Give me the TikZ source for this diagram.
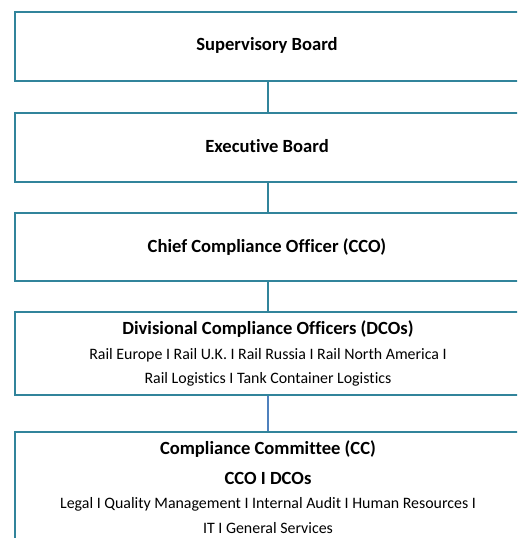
\documentclass[tikz,border=0pt]{standalone}
\usepackage{fontspec}
\setmainfont{Carlito}[Ligatures=NoCommon]
\definecolor{boxteal}{RGB}{49,132,155}
\definecolor{linkblue}{RGB}{79,129,189}
\tikzset{
  orgbox/.style={draw=boxteal, line width=2pt, rectangle, minimum width=506pt, inner sep=0pt},
  titletext/.style={font=\fontsize{18.6}{22}\selectfont\bfseries, text=black, inner sep=0pt},
  listtext/.style={font=\fontsize{15.9}{19}\selectfont, text=black, inner sep=0pt},
  link/.style={draw=boxteal, line width=2pt},
  link2/.style={draw=linkblue, line width=2pt}
}
\begin{document}
\begin{tikzpicture}[x=1pt,y=-1pt]
\useasboundingbox (0,0) rectangle (517,538);
\clip (0,0) rectangle (517,538);
\node[orgbox, minimum height=68.5pt] (b1) at (268,46.25) {};
\node[orgbox, minimum height=68.5pt] (b2) at (268,147.25) {};
\node[orgbox, minimum height=68pt] (b3) at (268,247) {};
\node[orgbox, minimum height=83pt] (b4) at (268,353.5) {};
\node[orgbox, minimum height=130pt] (b5) at (268,497) {};
\node[titletext] (t1) at (267,45) {Supervisory Board};
\node[titletext] (t2) at (267,146) {Executive Board};
\node[titletext] (t3) at (267,247) {Chief Compliance Officer (CCO)};
\node[titletext] (t4) at (268,329) {Divisional Compliance Officers (DCOs)};
\node[listtext] (t4a) at (268,355) {Rail Europe I Rail U.K. I Rail Russia I Rail North America I};
\node[listtext] (t4b) at (268,379) {Rail Logistics I Tank Container Logistics};
\node[titletext] (t5) at (268,449) {Compliance Committee (CC)};
\node[titletext] (t5a) at (268,478) {CCO I DCOs};
\node[listtext] (t5b) at (268,504) {Legal I Quality Management I Internal Audit I Human Resources I};
\node[listtext] (t5c) at (268,528) {IT I General Services};
\draw[link] (b1.south) -- (b2.north);
\draw[link] (b2.south) -- (b3.north);
\draw[link] (b3.south) -- (b4.north);
\draw[link2] (b4.south) -- (b5.north);
\end{tikzpicture}
\end{document}
